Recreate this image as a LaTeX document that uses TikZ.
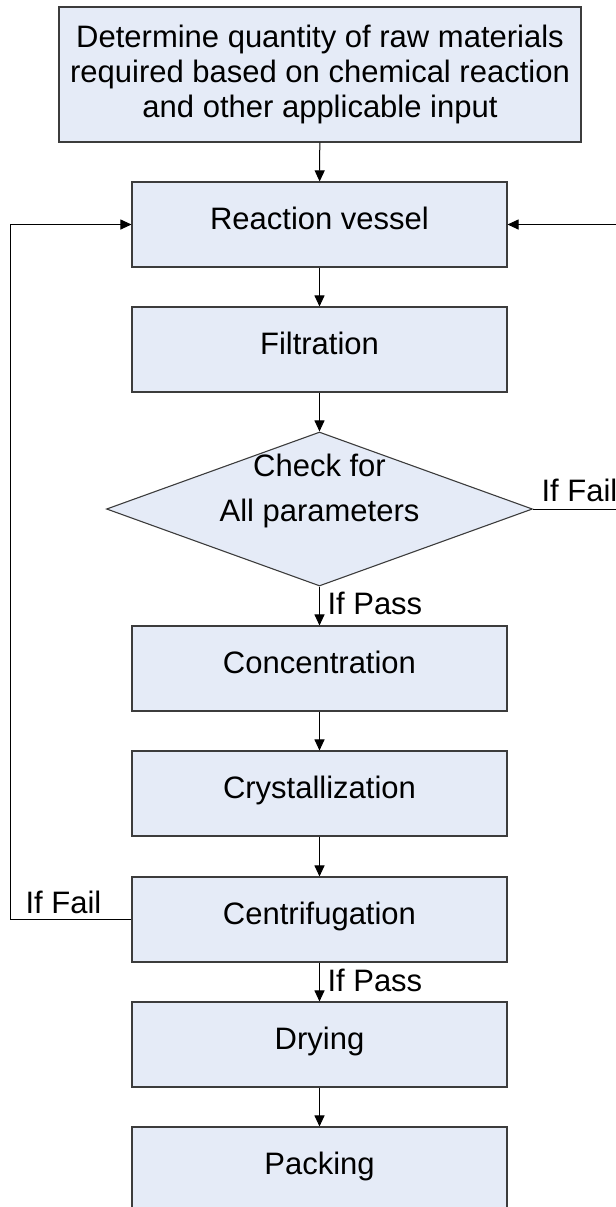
\documentclass[tikz,border=0pt]{standalone}
\usepackage{fontspec}
\setmainfont{Liberation Sans}
\usetikzlibrary{shapes.geometric,arrows.meta}
\definecolor{boxfill}{RGB}{229,235,247}
\definecolor{boxline}{RGB}{60,60,60}

\begin{document}
\begin{tikzpicture}[x=0.5pt,y=-0.5pt,
    font=\fontsize{15.5}{17.5}\selectfont,
    box/.style={draw=boxline,fill=boxfill,line width=0.55pt,inner sep=0pt},
    stage/.style={box,minimum width=187.5pt,minimum height=42.5pt,text height=0.73em,text depth=0.21em},
    tag/.style={inner sep=0.5pt,text height=0.73em,text depth=0.21em},
    flow/.style={line width=0.5pt,-{Triangle[length=5.5pt,width=5pt]}}]
    \path[use as bounding box,clip] (0,0) rectangle (616,1207);
    \node[box,minimum width=261pt,minimum height=67.5pt,align=center] (quant) at (320,74.5)
      {Determine quantity of raw materials\\required based on chemical reaction\\and other applicable input};
    \node[stage] (rv) at (319.5,224.5) {Reaction vessel};
    \node[stage] (filt) at (319.5,349.5) {Filtration};
    \node[box,diamond,aspect=2.77,minimum width=213pt,minimum height=77pt] (chk) at (319.5,509) {};
    \node[align=center,inner sep=0pt] (chktxt) at ([yshift=9pt]chk.center) {Check for\\[5pt]All parameters};
    \node[stage] (conc) at (319.5,668.5) {Concentration};
    \node[stage] (cryst) at (319.5,793.5) {Crystallization};
    \node[stage] (centr) at (319.5,919.5) {Centrifugation};
    \node[stage] (dry) at (319.5,1044.5) {Drying};
    \node[stage] (pack) at (319.5,1169.5) {Packing};
    \draw[flow] (quant) -- (rv);
    \draw[flow] (rv) -- (filt);
    \draw[flow] (filt) -- (chk);
    \draw[flow] (chk) -- node[tag,anchor=west,xshift=3.25pt,yshift=-1.5pt] {If Pass} (conc);
    \draw[flow] (conc) -- (cryst);
    \draw[flow] (cryst) -- (centr);
    \draw[flow] (centr) -- node[tag,anchor=west,xshift=3.25pt,yshift=-2pt] {If Pass} (dry);
    \draw[flow] (dry) -- (pack);
    \draw[flow] (centr.west) -- node[tag,above,xshift=-3.75pt] {If Fail} ++(-121,0) |- (rv.west);
    \draw[flow] (chk.east) -- node[tag,pos=0,anchor=south west,xshift=3.5pt,yshift=1pt] {If Fail} ++(90,0) |- (rv.east);
\end{tikzpicture}
\end{document}
